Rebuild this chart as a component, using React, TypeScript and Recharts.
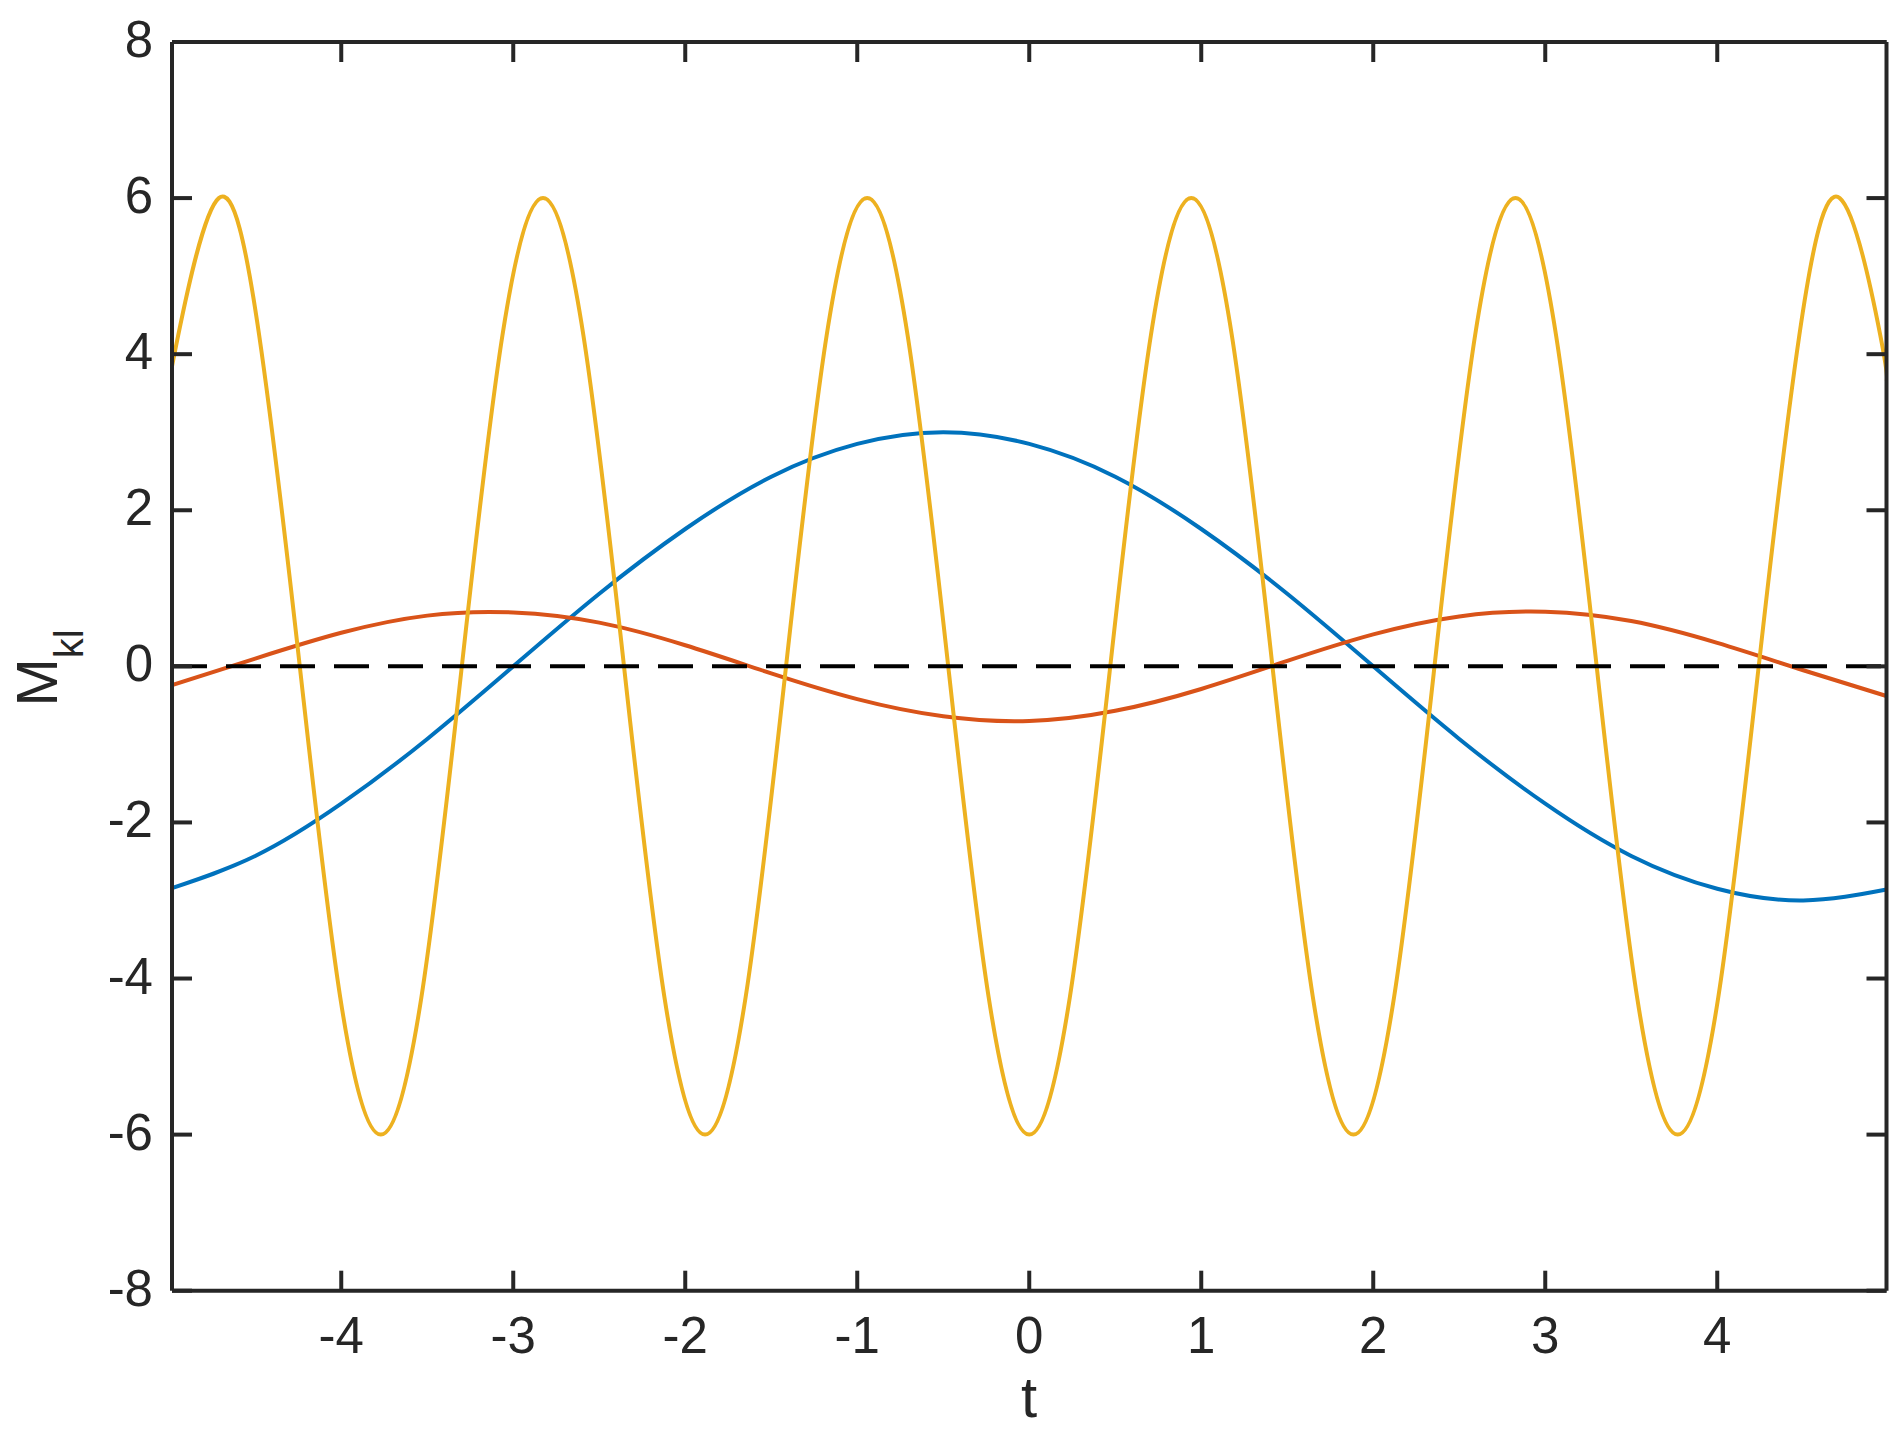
import { LineChart, Line, XAxis, YAxis, ReferenceLine, Label } from "recharts";

const xTicks = [-4, -3, -2, -1, 0, 1, 2, 3, 4];
const yTicks = [-8, -6, -4, -2, 0, 2, 4, 6, 8];
const tDomain = [-4.984, 4.984];

// slow curves, read every 0.5 in t
const tSlow = [-4.984, -4.5, -4, -3.5, -3, -2.5, -2, -1.5, -1, -0.5, 0, 0.5, 1, 1.5, 2, 2.5, 3, 3.5, 4, 4.5, 4.984];
const blueVals = [-2.84, -2.43, -1.76, -0.93, 0, 0.93, 1.76, 2.43, 2.85, 3.0, 2.85, 2.43, 1.76, 0.93, 0, -0.93, -1.76, -2.43, -2.85, -3.0, -2.86];
const redVals = [-0.24, 0.1, 0.43, 0.65, 0.69, 0.56, 0.27, -0.09, -0.42, -0.64, -0.7, -0.57, -0.29, 0.07, 0.41, 0.64, 0.7, 0.58, 0.3, -0.05, -0.38];

// fast curve, read at peaks, troughs, zero crossings and half-way points
const tFast = [
    -4.984, -4.948, -4.712, -4.477, -4.241, -4.006, -3.77, -3.534, -3.299, -3.063, -2.827, -2.592, -2.356, -2.121, -1.885,
    -1.649, -1.414, -1.178, -0.942, -0.707, -0.471, -0.236, 0, 0.236, 0.471, 0.707, 0.942, 1.178, 1.414, 1.649, 1.885,
    2.121, 2.356, 2.592, 2.827, 3.063, 3.299, 3.534, 3.77, 4.006, 4.241, 4.477, 4.712, 4.948, 4.984,
];
const yellowVals = [
    3.82, 4.24, 6, 4.24, 0, -4.24, -6, -4.24, 0, 4.24, 6, 4.24, 0, -4.24, -6,
    -4.24, 0, 4.24, 6, 4.24, 0, -4.24, -6, -4.24, 0, 4.24, 6, 4.24, 0, -4.24, -6,
    -4.24, 0, 4.24, 6, 4.24, 0, -4.24, -6, -4.24, 0, 4.24, 6, 4.24, 3.65,
];

const zip = (ts: number[], vs: number[]) => ts.map((t, i) => ({ t, v: vs[i] }));
const blueData = zip(tSlow, blueVals);
const redData = zip(tSlow, redVals);
const yellowData = zip(tFast, yellowVals);

const INK = "#262626";
const FONT = "'Liberation Sans', Arial, Helvetica, sans-serif";
const TICK = 20;

function BottomTick({ x, y, payload }: any) {
    return (
        <g>
            <line x1={x} x2={x} y1={y} y2={y - TICK} stroke={INK} strokeWidth={4} />
            <text x={x} y={y + 62} textAnchor="middle" fontSize={51} fill={INK} fontFamily={FONT}>{payload.value}</text>
        </g>
    );
}

function LeftTick({ x, y, payload }: any) {
    return (
        <g>
            <line x1={x} x2={x + TICK} y1={y} y2={y} stroke={INK} strokeWidth={4} />
            <text x={x - 19} y={y + 15} textAnchor="end" fontSize={51} fill={INK} fontFamily={FONT}>{payload.value}</text>
        </g>
    );
}

const TopTick = ({ x, y }: any) => <line x1={x} x2={x} y1={y} y2={y + TICK} stroke={INK} strokeWidth={4} />;
const RightTick = ({ x, y }: any) => <line x1={x - TICK} x2={x} y1={y} y2={y} stroke={INK} strokeWidth={4} />;

const YLabel = () => (
    <text transform="rotate(-90)" x={-668} y={57} textAnchor="middle" fontSize={58} fill={INK} fontFamily={FONT}>
        M<tspan dy={26} fontSize={40}>kl</tspan>
    </text>
);

const XLabel = () => (
    <text x={1029} y={1417} textAnchor="middle" fontSize={58} fill={INK} fontFamily={FONT}>t</text>
);

export default function App() {
    const axisLine = { stroke: INK, strokeWidth: 4 };
    return (
        <div style={{ position: "absolute", left: 0, top: 0, width: 1900, height: 1436, background: "#fff" }}>
            <LineChart width={1900} height={1436} margin={{ top: 41, right: 12.5, bottom: 144.3, left: 171 }}>
                <XAxis dataKey="t" type="number" domain={tDomain} ticks={xTicks} interval={0} allowDataOverflow
                    height={1} tickSize={0} tickMargin={0} tickLine={false} axisLine={axisLine} tick={<BottomTick />}>
                    <Label content={<XLabel />} />
                </XAxis>
                <XAxis xAxisId="top" orientation="top" dataKey="t" type="number" domain={tDomain} ticks={xTicks} interval={0}
                    allowDataOverflow height={1} tickSize={0} tickMargin={0} tickLine={false} axisLine={axisLine} tick={<TopTick />} />
                <YAxis type="number" domain={[-8, 8]} ticks={yTicks} interval={0} allowDataOverflow
                    width={1} tickSize={0} tickMargin={0} tickLine={false} axisLine={axisLine} tick={<LeftTick />}>
                    <Label content={<YLabel />} />
                </YAxis>
                <YAxis yAxisId="right" orientation="right" type="number" domain={[-8, 8]} ticks={yTicks} interval={0}
                    allowDataOverflow width={1} tickSize={0} tickMargin={0} tickLine={false} axisLine={axisLine} tick={<RightTick />} />
                <Line data={blueData} dataKey="v" type="natural" stroke="#0072BD" strokeWidth={4} dot={false} isAnimationActive={false} />
                <Line data={redData} dataKey="v" type="natural" stroke="#D95319" strokeWidth={4} dot={false} isAnimationActive={false} />
                <Line data={yellowData} dataKey="v" type="natural" stroke="#EDB120" strokeWidth={4} dot={false} isAnimationActive={false} />
                <ReferenceLine y={0} stroke="#000" strokeWidth={4} strokeDasharray="35 19" />
            </LineChart>
        </div>
    );
}
